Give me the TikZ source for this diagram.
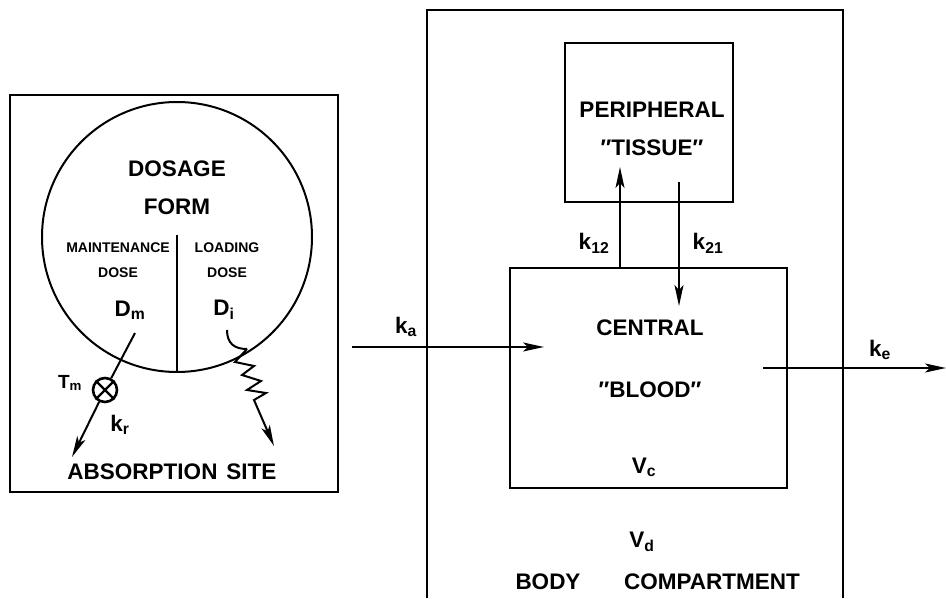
\documentclass[tikz,border=0pt]{standalone}
\usepackage{fontspec}
\setmainfont{Liberation Sans}
\usetikzlibrary{arrows.meta, positioning, calc}
\newcommand\lowsub[1]{\textsubscript{#1}}
\tikzset{
  %% boxes
  cmpt/.style={rectangle, draw, line width=2pt, inner sep=0pt},
  dform/.style={circle, draw, line width=2pt, inner sep=0pt, minimum size=270pt},
  valve/.style={circle, draw, line width=2.6pt, inner sep=0pt, minimum size=24pt},
  %% texts
  lbl/.style={font=\bfseries\fontsize{22.5}{38}\selectfont, inner sep=0pt, align=center},
  lblsm/.style={font=\bfseries\fontsize{14}{25}\selectfont, inner sep=0pt, align=center},
  %% arrows
  flow/.style={-{Stealth[length=21pt, width=9pt, inset=5pt]}, line width=2pt},
  wire/.style={line width=2pt},
}
\begin{document}
\begin{tikzpicture}[x=1pt, y=1pt]
\useasboundingbox (0,0) rectangle (946,598);

%% ============================================================
%%  LEFT: dosage form at the absorption site
%% ============================================================
\node[cmpt, minimum width=328pt, minimum height=397pt] (site) at (174,304.5) {};
\node[dform] (form) at (177,361) {};
\node[lbl] (dosage) at (177,410) {DOSAGE\\FORM};
\node[lblsm] (maint) at (118,337.5) {MAINTENANCE\\DOSE};
\node[lblsm] (load)  at (227,337.5) {LOADING\\DOSE};
\node[lbl] (dm) at (130,288) {D\lowsub{m}};
\node[lbl] (di) at (224,288) {D\lowsub{i}};

%% divider between the two doses
\coordinate (split) at (177,363);
\draw[wire] (split) -- (form.south);

%% maintenance dose: valve T_m, rate k_r
\node[valve] (tm) at (105,208) {};
\draw[line width=2.4pt] (tm.north west) -- (tm.south east)
                        (tm.north east) -- (tm.south west);
\node[lbl, font=\bfseries\fontsize{19}{20}\selectfont] (tmlbl) at (70,215) {T\lowsub{m}};
\coordinate (dmfoot) at (135,265);
\draw[wire] (dmfoot) -- (tm);
\coordinate (mtip) at (72,141);
\draw[flow] (tm) -- (mtip);
\node[lbl] (kr) at (120,173) {k\lowsub{r}};

%% loading dose: hook + spring
\coordinate (dihook) at (227,268);
\coordinate (spring) at (247,249);
\coordinate (ltip) at (274,152);
\draw[wire] (dihook) .. controls (227,254) and (235,249) .. (spring);
\draw[flow] (spring) -- (235,236) -- (254,232) -- (242,223) -- (261,217)
  -- (247,208) -- (266,205) -- (254,198) -- (ltip);

\node[lbl] (absorb) at (172,126) {ABSORPTION\hspace{0.4em}SITE};

%% ============================================================
%%  RIGHT: body compartment
%% ============================================================
\draw[wire] (427,0) -- (427,588) -- (843,588) -- (843,0);

\node[cmpt, minimum width=168pt, minimum height=159pt] (periph) at (649,475.5) {};
\node[lbl] (tissue) at (652,469) {PERIPHERAL\\″TISSUE″};

\node[cmpt, minimum width=277pt, minimum height=220pt] (central) at (648.5,220) {};
\node[lbl] (centrl) at (650,270) {CENTRAL};
\node[lbl] (blood)  at (650,208) {″BLOOD″};
\node[lbl] (vc)     at (644,131) {V\lowsub{c}};

%% distribution
\coordinate (k12s) at (620,330);
\coordinate (k12e) at (620,431);
\coordinate (k21s) at (679,416);
\coordinate (k21e) at (679,292);
\draw[flow] (k12s) -- (k12e);
\draw[flow] (k21s) -- (k21e);
\node[lbl] (k12) at (594,355) {k\lowsub{12}};
\node[lbl] (k21) at (708,355) {k\lowsub{21}};

\node[lbl] (vd) at (642,56) {V\lowsub{d}};
\node[lbl] (body) at (548,16) {BODY};
\node[lbl] (cmptlbl) at (712,16) {COMPARTMENT};

%% absorption and elimination
\coordinate (kas) at (352,251);
\coordinate (kae) at (544,251);
\draw[flow] (kas) -- (kae);
\node[lbl] (ka) at (406,271) {k\lowsub{a}};

\coordinate (kes) at (763,230);
\coordinate (kee) at (946,230);
\draw[flow] (kes) -- (kee);
\node[lbl] (ke) at (880,248) {k\lowsub{e}};

\end{tikzpicture}
\end{document}
